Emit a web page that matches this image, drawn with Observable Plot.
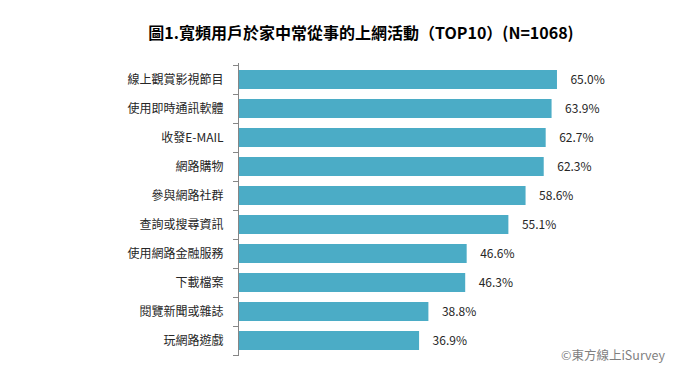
<!DOCTYPE html>
<html>
<head>
<meta charset="utf-8">
<script src="https://cdn.jsdelivr.net/npm/d3@7"></script>
<script src="https://cdn.jsdelivr.net/npm/@observablehq/plot@0.6"></script>
<style>
  html, body { margin: 0; padding: 0; background: #fff; }
  body { width: 700px; height: 370px; position: relative; overflow: hidden; font-family: "Noto Sans CJK TC", "Noto Sans", sans-serif; }
  #title { height: 50px; line-height: 64px; text-align: center; padding-left: 22px; box-sizing: border-box; width: 700px;
           font-size: 16px; font-weight: bold; color: #000; }
  #caption { position: absolute; left: 561px; top: 345px; font-size: 12.5px; color: #7f7f7f; }
  #chart svg { display: block; }
</style>
</head>
<body>
<div id="title">圖1.寬頻用戶於家中常從事的上網活動（TOP10）(N=1068)</div>
<div id="chart"></div>
<div id="caption">©東方線上iSurvey</div>
<script>
const categories = ["線上觀賞影視節目", "使用即時通訊軟體", "收發E-MAIL", "網路購物", "參與網路社群",
                    "查詢或搜尋資訊", "使用網路金融服務", "下載檔案", "閱覽新聞或雜誌", "玩網路遊戲"];
const values = [65.0, 63.9, 62.7, 62.3, 58.6, 55.1, 46.6, 46.3, 38.8, 36.9];

const data = categories.map((c, i) => ({category: c, value: values[i]}));

const W = 700, H = 320, mT = 13, mB = 14, mL = 238, mR = 118.5;
const padInner = 0.35;
const n = categories.length;

function boundaryTicks(index, scales, vals, dims) {
  const step = (dims.height - dims.marginTop - dims.marginBottom) / n;
  const bw = step * (1 - padInner);
  const g = d3.create("svg:g").attr("stroke", "#868686").attr("stroke-width", 1);
  const x0 = scales.x(0);
  const ys = categories.map(c => scales.y(c) + bw / 2 - step / 2);
  ys.push(scales.y(categories[n - 1]) + bw / 2 + step / 2);
  for (const y of ys) {
    g.append("line").attr("x1", x0 - 5).attr("x2", x0).attr("y1", Math.round(y) + 0.5).attr("y2", Math.round(y) + 0.5);
  }
  return g.node();
}

const chart = Plot.plot({
  width: W, height: H,
  marginTop: mT, marginBottom: mB, marginLeft: mL, marginRight: mR,
  style: {fontFamily: '"Noto Sans CJK TC", "Noto Sans", sans-serif', fontSize: "12px", color: "#262626", background: "#fff"},
  x: {domain: [0, 70], axis: null},
  y: {domain: categories, paddingInner: padInner, paddingOuter: padInner / 2, label: null},
  marks: [
    Plot.barX(data, {x: "value", y: "category", fill: "#4bacc6"}),
    Plot.axisY({tickSize: 0, tickPadding: 15, fontSize: 12, fill: "#262626", label: null}),
    Plot.ruleX([0], {stroke: "#868686"}),
    boundaryTicks,
    Plot.text(data, {x: "value", y: "category", text: d => d.value.toFixed(1) + "%", textAnchor: "start", dx: 13, fontSize: 12, fill: "#262626"})
  ]
});
document.getElementById("chart").appendChild(chart);
</script>
</body>
</html>
